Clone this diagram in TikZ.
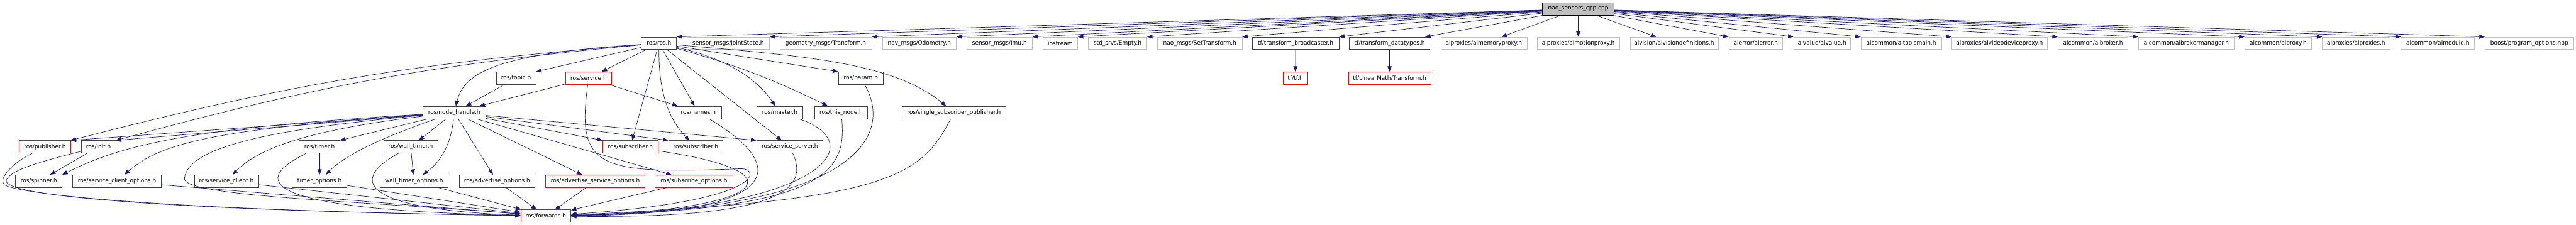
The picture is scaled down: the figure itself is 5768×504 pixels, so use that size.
\documentclass[tikz,border=0pt]{standalone}
\usepackage{fontspec}
\setmainfont{DejaVu Sans}
\usetikzlibrary{arrows.meta}
\definecolor{edgeblue}{RGB}{25,25,112}
\definecolor{boxgray}{RGB}{191,191,191}

\begin{document}
\begin{tikzpicture}[x=0.75pt, y=-0.75pt, font=\fontsize{9.5}{11}\selectfont,
    box/.style={draw=black!75, line width=0.75pt, inner sep=0pt, minimum height=21pt, minimum width=#1*0.75pt},
    ext/.style={box=#1, draw=boxgray},
    trunc/.style={box=#1, draw=red},
    dep/.style={edgeblue, line width=0.75pt, -{Triangle[length=9pt, width=7pt]}}]
  \useasboundingbox (0,0) rectangle (5768,504);

  \node[box=160, fill=boxgray, draw=black] (root) at (3534,20) {nao\_sensors\_cpp.cpp};
  \node[box=79] (ros) at (1475.5,97) {ros/ros.h};
  \node[box=194] (broadcaster) at (2901,97) {tf/transform\_broadcaster.h};
  \node[box=181] (datatypes) at (3111.5,97) {tf/transform\_datatypes.h};
  \foreach \n/\x/\w/\t in {jointstate/1630.5/185/{sensor\_msgs/JointState.h}, gtransform/1849/206/{geometry\_msgs/Transform.h},
      odometry/2058.5/165/{nav\_msgs/Odometry.h}, imu/2238/146/{sensor\_msgs/Imu.h}, iostream/2374/78/{iostream},
      empty/2502.5/131/{std\_srvs/Empty.h}, settransform/2686.5/189/{nao\_msgs/SetTransform.h},
      almemory/3322.5/193/{alproxies/almemoryproxy.h}, almotion/3534/184/{alproxies/almotionproxy.h},
      alvisiondef/3748.5/197/{alvision/alvisiondefinitions.h}, alerror/3931.5/121/{alerror/alerror.h},
      alvalue/4080/128/{alvalue/alvalue.h}, altoolsmain/4257/180/{alcommon/altoolsmain.h},
      alvideodevice/4477/214/{alproxies/alvideodeviceproxy.h}, albroker/4686.5/157/{alcommon/albroker.h},
      albrokermanager/4895.5/215/{alcommon/albrokermanager.h}, alproxy/5101/150/{alcommon/alproxy.h},
      alproxies/5275.5/151/{alproxies/alproxies.h}, almodule/5458.5/165/{alcommon/almodule.h},
      programoptions/5663.5/199/{boost/program\_options.hpp}}
    \node[ext=\w] (\n) at (\x,97) {\t};

  \node[box=89] (topic) at (1155.5,175) {ros/topic.h};
  \node[trunc=102] (service) at (1318,175) {ros/service.h};
  \node[box=101] (param) at (1927.5,175) {ros/param.h};
  \node[trunc=55] (tf) at (2900.5,175) {tf/tf.h};
  \node[trunc=185] (lmtransform) at (3111.5,175) {tf/LinearMath/Transform.h};

  \node[box=140] (nodehandle) at (1017,252) {ros/node\_handle.h};
  \node[box=103] (names) at (1563.5,252) {ros/names.h};
  \node[box=102] (master) at (1746,252) {ros/master.h};
  \node[box=119] (thisnode) at (1883.5,252) {ros/this\_node.h};
  \node[box=232] (singlesubpub) at (2136,252) {ros/single\_subscriber\_publisher.h};

  \node[trunc=115] (publisher) at (100.5,329) {ros/publisher.h};
  \node[box=77] (init) at (220.5,329) {ros/init.h};
  \node[box=91] (timer) at (715.5,329) {ros/timer.h};
  \node[box=121] (walltimer) at (919.5,329) {ros/wall\_timer.h};
  \node[trunc=123] (subscriberA) at (1411.5,329) {ros/subscriber.h};
  \node[trunc=122] (subscriberB) at (1558,329) {ros/subscriber.h};
  \node[box=149] (serviceserver) at (1768.5,329) {ros/service\_server.h};

  \node[box=104] (spinner) at (87,406) {ros/spinner.h};
  \node[box=198] (scoptions) at (262,406) {ros/service\_client\_options.h};
  \node[box=144] (serviceclient) at (507,406) {ros/service\_client.h};
  \node[box=123] (timeroptions) at (715.5,406) {timer\_options.h};
  \node[box=152] (walltimeroptions) at (927,406) {wall\_timer\_options.h};
  \node[box=170] (advoptions) at (1113,406) {ros/advertise\_options.h};
  \node[trunc=222] (advsrvoptions) at (1333,406) {ros/advertise\_service\_options.h};
  \node[trunc=174] (subscribeoptions) at (1554,406) {ros/subscribe\_options.h};

  \node[trunc=112] (forwards) at (1222,484) {ros/forwards.h};

  \foreach \n in {ros,jointstate,gtransform,odometry,imu,iostream,empty,settransform,broadcaster}
    \draw[dep] (root) -- (\n.north east);
  \foreach \n in {datatypes,almemory,almotion,alvisiondef}
    \draw[dep] (root) -- (\n);
  \foreach \n in {alerror,alvalue,altoolsmain,alvideodevice,albroker,albrokermanager,alproxy,alproxies,almodule,programoptions}
    \draw[dep] (root) -- (\n.north west);

  \foreach \a/\b in {broadcaster/tf, datatypes/lmtransform, ros/service, ros/subscriberA, ros/names, ros/serviceserver,
      topic/nodehandle, service/nodehandle, service/names, init/spinner, timer/timeroptions, walltimer/walltimeroptions,
      nodehandle/walltimer, nodehandle/advoptions, nodehandle/advsrvoptions, nodehandle/subscribeoptions,
      scoptions/forwards, serviceclient/forwards, timeroptions/forwards, walltimeroptions/forwards,
      advoptions/forwards, advsrvoptions/forwards, subscribeoptions/forwards,
      ros/topic.north east, ros/param.north west, nodehandle/publisher.north east, nodehandle/init.north east,
      nodehandle/timer.north east, nodehandle/subscriberA.north west, nodehandle/subscriberB.north west,
      nodehandle/serviceserver.north west}
    \draw[dep] (\a) -- (\b);

  \draw[dep] (ros) to[bend right=5] (publisher.north east);
  \draw[dep] (ros) to[bend right=5] (init.north east);
  \draw[dep] (ros) .. controls (1120,120) and (1040,160) .. (nodehandle);
  \draw[dep] (ros) .. controls (1475,190) and (1490,260) .. (subscriberB);
  \draw[dep] (ros) .. controls (1620,130) and (1690,170) .. (master);
  \draw[dep] (ros) to[bend left=5] (thisnode);
  \draw[dep] (ros) .. controls (1800,125) and (2000,140) .. (singlesubpub);

  \draw[dep] (nodehandle) .. controls (450,285) and (280,320) .. (spinner.north east);
  \draw[dep] (nodehandle) .. controls (480,290) and (360,320) .. (scoptions);
  \draw[dep] (nodehandle) .. controls (700,290) and (580,330) .. (serviceclient);
  \draw[dep] (nodehandle) .. controls (880,300) and (780,340) .. (timeroptions);
  \draw[dep] (nodehandle) .. controls (1010,320) and (990,360) .. (walltimeroptions);
  \draw[dep] (nodehandle) .. controls (600,290) and (420,330) .. (413,400) .. controls (410,440) and (800,450) .. (forwards);

  \draw[dep] (publisher) .. controls (20,370) and (0,400) .. (8,412) .. controls (15,430) and (300,470) .. (forwards);
  \draw[dep] (init) .. controls (100,360) and (20,380) .. (14,405) .. controls (10,435) and (300,470) .. (forwards);
  \draw[dep] (timer) .. controls (550,410) and (600,470) .. (forwards);
  \draw[dep] (walltimer) .. controls (770,410) and (830,470) .. (forwards);

  \draw[dep] (service) .. controls (1290,380) and (1340,390) .. (1660,378) .. controls (1700,377) and (1720,450) .. (forwards);
  \draw[dep] (subscriberA) .. controls (1800,385) and (1720,470) .. (forwards);
  \draw[dep] (names) .. controls (1780,380) and (1740,480) .. (forwards);
  \draw[dep] (serviceserver) .. controls (1810,420) and (1760,490) .. (forwards);
  \draw[dep] (master) .. controls (1950,320) and (1850,470) .. (forwards);
  \draw[dep] (thisnode) .. controls (1895,380) and (1860,470) .. (forwards);
  \draw[dep] (param) .. controls (2000,300) and (1930,470) .. (forwards);
  \draw[dep] (singlesubpub) .. controls (2060,400) and (1980,450) .. (forwards);
\end{tikzpicture}
\end{document}
